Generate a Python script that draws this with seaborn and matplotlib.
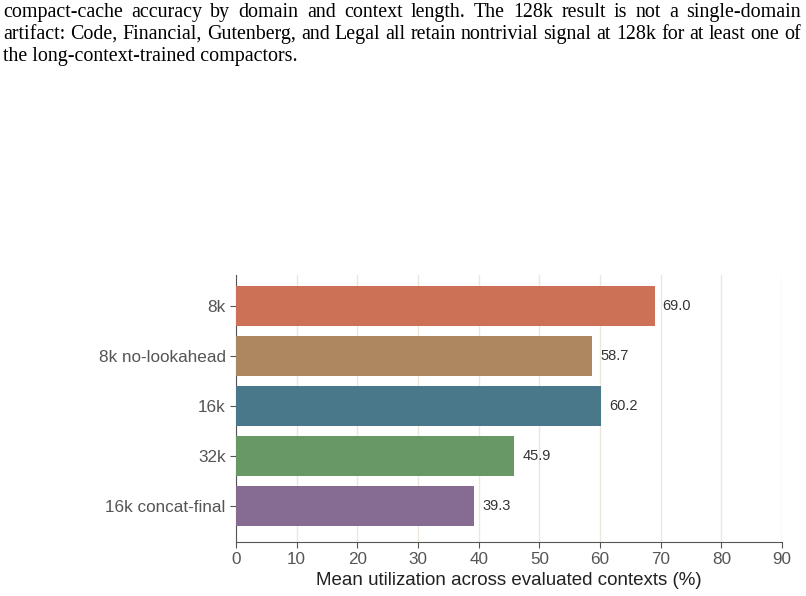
import matplotlib
matplotlib.use("Agg")
import pandas as pd
import seaborn as sns
import matplotlib.pyplot as plt

# values
variants = ["8k", "8k no-lookahead", "16k", "32k", "16k concat-final"]
utilization = [69.0, 58.7, 60.2, 45.9, 39.3]
bar_colors = ["#cc7155", "#ad8760", "#4a788b", "#679865", "#866b93"]

caption = [
    "compact-cache accuracy by domain and context length.  The 128k result is not a single-domain",
    "artifact: Code, Financial, Gutenberg, and Legal all retain nontrivial signal at 128k for at least one of",
    "the long-context-trained compactors.",
]

df = pd.DataFrame({"variant": variants, "util": utilization})

sns.set_style("ticks")
plt.rcParams["font.family"] = ["Liberation Sans", "DejaVu Sans"]

fig = plt.figure(figsize=(8.06, 5.96), dpi=100)
ax = fig.add_axes([0.2928, 0.0906, 0.6774, 0.448])

sns.barplot(data=df, x="util", y="variant", hue="variant", palette=bar_colors,
            legend=False, width=0.8, saturation=1, linewidth=0, ax=ax, zorder=3)

for i, v in enumerate(utilization):
    ax.text(v + 1.3, i, f"{v:.1f}", va="center", ha="left", fontsize=10.5, color="#333333")

ax.set_xlim(0, 90)
ax.set_ylim(4.72, -0.62)
ax.set_xticks(range(0, 91, 10))
ax.grid(axis="x", color="#ece6dc", linewidth=1, zorder=0)
ax.set_ylabel("")
ax.set_xlabel("Mean utilization across evaluated contexts (%)", fontsize=13.5, color="#222222", labelpad=3)
ax.tick_params(axis="both", labelsize=12.3, colors="#555555", length=4)
for s in ["top", "right"]:
    ax.spines[s].set_visible(False)
for s in ["left", "bottom"]:
    ax.spines[s].set_color("#555555")

# caption, first two lines justified to the page width
renderer = fig.canvas.get_renderer()
W = 806.0
left_px, right_px = 3, 801
for k, line in enumerate(caption):
    y = 1 - (17 + 22 * k) / 596
    kw = dict(family="Liberation Serif", fontsize=14.4, color="black", va="baseline", ha="left")
    if k == len(caption) - 1:
        fig.text(left_px / W, y, line, **kw)
        continue
    words = line.split()
    texts = [fig.text(0, y, w, **kw) for w in words]
    widths = [t.get_window_extent(renderer).width for t in texts]
    gap = (right_px - left_px - sum(widths)) / (len(words) - 1)
    x = left_px
    for t, w in zip(texts, widths):
        t.set_x(x / W)
        x += w + gap

fig.savefig("out.png", dpi=100)
